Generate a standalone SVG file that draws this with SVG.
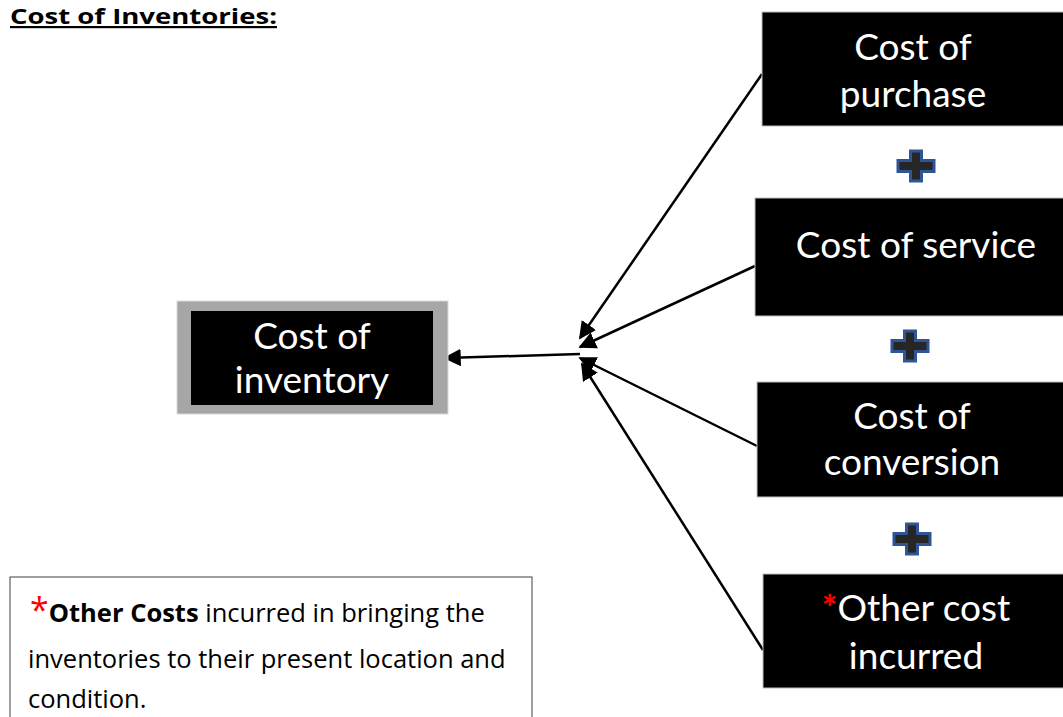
<svg xmlns="http://www.w3.org/2000/svg" width="1063" height="717" viewBox="0 0 1063 717">
<defs>
<style>
.bt{font-family:Lato,"Open Sans",sans-serif;font-size:37px;fill:#fff;text-anchor:middle}
.box{fill:#000;stroke:#bfbfbf;stroke-width:1}
.plus{fill:#262626;stroke:#2f5597;stroke-width:3}
.ln{stroke:#000;stroke-width:2.5;fill:none}
.note{font-family:"Open Sans","Liberation Sans",sans-serif;font-size:25.5px;fill:#000}
</style>
<marker id="ah" viewBox="0 0 10 10" refX="9" refY="5" markerWidth="7" markerHeight="7" orient="auto" markerUnits="strokeWidth">
<path d="M0,0 L10,5 L0,10 z" fill="#000"/>
</marker>
<path id="plusshape" class="plus" d="M-5.5,-15 h11 v9.5 h12.5 v11 h-12.5 v9.5 h-11 v-9.5 h-12.5 v-11 h12.5 z"/>
</defs>
<rect width="1063" height="717" fill="#fff"/>
<g id="title">
<text x="10" y="24" font-family="'Open Sans','Liberation Sans',sans-serif" font-size="22" font-weight="bold" fill="#000" text-decoration="underline" textLength="267" lengthAdjust="spacingAndGlyphs">Cost of Inventories:</text>
</g>
<g id="connectors">
<line class="ln" x1="762" y1="74" x2="580" y2="338" marker-end="url(#ah)"/>
<line class="ln" x1="755" y1="266" x2="580" y2="347" marker-end="url(#ah)"/>
<line class="ln" x1="757" y1="446" x2="580" y2="358" marker-end="url(#ah)"/>
<line class="ln" x1="763" y1="650" x2="582" y2="364" marker-end="url(#ah)"/>
<line class="ln" x1="580" y1="354" x2="445" y2="358" marker-end="url(#ah)"/>
</g>
<g id="cost-of-inventory">
<rect x="177" y="301" width="271" height="113" fill="#a6a6a6" stroke="#d9d9d9" stroke-width="1"/>
<rect x="191" y="311" width="242" height="94" fill="#000"/>
<text class="bt" x="312" y="349">Cost of</text>
<text class="bt" x="312" y="393">inventory</text>
</g>
<g id="cost-of-purchase">
<rect class="box" x="762" y="12" width="302" height="114"/>
<text class="bt" x="913" y="60">Cost of</text>
<text class="bt" x="913" y="107">purchase</text>
</g>
<g id="plus1"><use href="#plusshape" x="916" y="166"/></g>
<g id="cost-of-service">
<rect class="box" x="755" y="198" width="309" height="118"/>
<text class="bt" x="916" y="258">Cost of service</text>
</g>
<g id="plus2"><use href="#plusshape" x="910" y="346"/></g>
<g id="cost-of-conversion">
<rect class="box" x="757" y="382" width="307" height="115"/>
<text class="bt" x="912" y="429">Cost of</text>
<text class="bt" x="912" y="475">conversion</text>
</g>
<g id="plus3"><use href="#plusshape" x="912" y="539"/></g>
<g id="other-cost-incurred">
<rect class="box" x="763" y="574" width="301" height="114"/>
<text class="bt" x="916" y="621"><tspan fill="#ff0000" font-weight="bold">*</tspan>Other cost</text>
<text class="bt" x="916" y="669">incurred</text>
</g>
<g id="note">
<rect x="10" y="577" width="522" height="145" fill="#fff" stroke="#404040" stroke-width="1"/>
<text class="note" x="30" y="622"><tspan fill="#ff0000" font-size="34">*</tspan><tspan font-weight="bold">Other Costs</tspan> incurred in bringing the</text>
<text class="note" x="28" y="668">inventories to their present location and</text>
<text class="note" x="28" y="708">condition.</text>
</g>
</svg>
